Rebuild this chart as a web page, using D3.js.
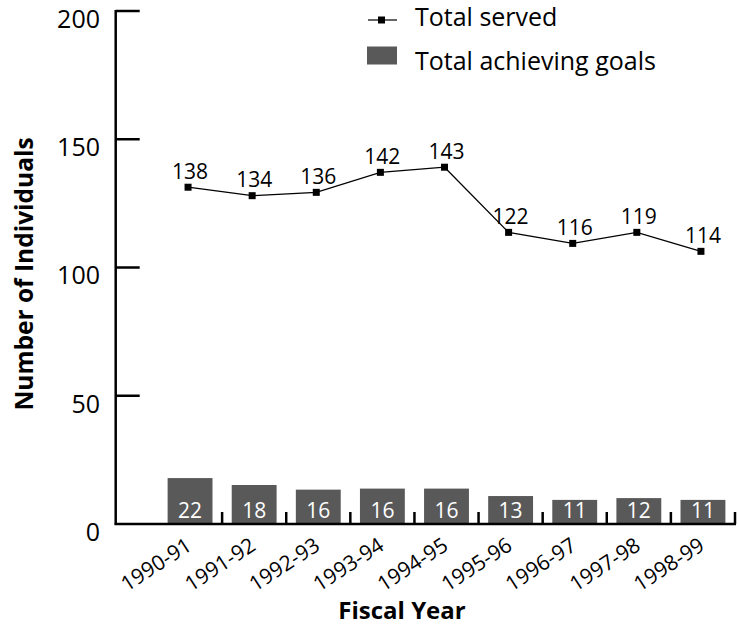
<!DOCTYPE html>
<html>
<head>
<meta charset="utf-8">
<script src="https://cdn.jsdelivr.net/npm/d3@7"></script>
<style>
  html, body { margin: 0; padding: 0; background: #fff; }
  svg { display: block; font-family: "Open Sans", sans-serif; }
</style>
</head>
<body>
<svg id="chart" width="739" height="626"></svg>
<script>
// ---- data ----
const categories = ["1990-91","1991-92","1992-93","1993-94","1994-95","1995-96","1996-97","1997-98","1998-99"];
// values as plotted in the picture
const servedPlotted = [131.3, 128.0, 129.3, 137.1, 139.1, 113.7, 109.4, 113.7, 106.3];
// values as printed on the labels
const servedLabels = [138, 134, 136, 142, 143, 122, 116, 119, 114];
const goalsPlotted = [17.9, 15.2, 13.4, 13.8, 13.8, 10.9, 9.4, 10.1, 9.4];
const goalsLabels = [22, 18, 16, 16, 16, 13, 11, 12, 11];
const yTicks = [0, 50, 100, 150, 200];
const seriesNames = ["Total served", "Total achieving goals"];
const axisTitles = { x: "Fiscal Year", y: "Number of Individuals" };

const svg = d3.select("#chart");
const barColor = "#595959";

const axisLeft = 115.7, axisRight = 736;
const x = d3.scaleBand().domain(categories).range([158, 735]).paddingInner(0.3).paddingOuter(0.15);
const y = d3.scaleLinear().domain([0, 200]).range([524, 11]);
const pad = x.step() * 0.15;

// bars
svg.append("g").selectAll("rect").data(categories).join("rect")
  .attr("x", d => x(d))
  .attr("y", (d, i) => y(goalsPlotted[i]))
  .attr("width", x.bandwidth())
  .attr("height", (d, i) => y(0) - y(goalsPlotted[i]))
  .attr("fill", barColor);

// bar labels
svg.append("g").selectAll("text").data(categories).join("text")
  .attr("x", d => x(d) + x.bandwidth() / 2)
  .attr("y", y(0) - 6)
  .attr("text-anchor", "middle")
  .attr("fill", "#fff")
  .attr("font-size", 21)
  .text((d, i) => goalsLabels[i]);

// axes
const ax = svg.append("g").attr("stroke", "#000").attr("stroke-width", 2.5).attr("fill", "none");
ax.append("line").attr("x1", axisLeft).attr("x2", axisLeft).attr("y1", y(200) - 1).attr("y2", y(0) + 1);
ax.append("line").attr("x1", axisLeft - 1).attr("x2", axisRight).attr("y1", y(0)).attr("y2", y(0));
ax.selectAll(".yt").data(yTicks.filter(t => t > 0)).join("line")
  .attr("x1", axisLeft).attr("x2", axisLeft + 24)
  .attr("y1", d => y(d)).attr("y2", d => y(d));
ax.selectAll(".xt").data(categories).join("line")
  .attr("x1", d => x(d) + x.bandwidth() + pad).attr("x2", d => x(d) + x.bandwidth() + pad)
  .attr("y1", y(0)).attr("y2", y(0) - 12);

// y tick labels
svg.append("g").selectAll("text").data(yTicks).join("text")
  .attr("x", 100)
  .attr("y", d => y(d) + 8)
  .attr("dy", "0.35em")
  .attr("text-anchor", "end")
  .attr("font-size", 25)
  .attr("fill", "#000")
  .text(d => d);

// x tick labels
svg.append("g").selectAll("text").data(categories).join("text")
  .attr("transform", d => `translate(${x(d) + x.bandwidth() / 2 + 3},${y(0) + 25}) rotate(-33)`)
  .attr("text-anchor", "end")
  .attr("font-size", 21)
  .attr("fill", "#000")
  .text(d => d);

// line
const cx = d => x(d) + x.bandwidth() / 2 - 2;
const line = d3.line().x((d, i) => cx(categories[i])).y(d => y(d));
svg.append("path").datum(servedPlotted)
  .attr("d", line).attr("fill", "none").attr("stroke", "#000").attr("stroke-width", 1.2);
svg.append("g").selectAll("rect").data(categories).join("rect")
  .attr("x", d => cx(d) - 3.5)
  .attr("y", (d, i) => y(servedPlotted[i]) - 3.5)
  .attr("width", 7).attr("height", 7).attr("fill", "#000");
svg.append("g").selectAll("text").data(categories).join("text")
  .attr("x", d => cx(d) + 2)
  .attr("y", (d, i) => y(servedPlotted[i]) - 8.5)
  .attr("text-anchor", "middle")
  .attr("font-size", 21)
  .attr("fill", "#000")
  .text((d, i) => servedLabels[i]);

// legend
const lg = svg.append("g");
lg.append("line").attr("x1", 368).attr("x2", 397).attr("y1", 20).attr("y2", 20).attr("stroke", "#000").attr("stroke-width", 1.2);
lg.append("rect").attr("x", 378).attr("y", 16.5).attr("width", 7).attr("height", 7).attr("fill", "#000");
lg.append("text").attr("x", 415).attr("y", 26).attr("font-size", 25).attr("fill", "#000").text(seriesNames[0]);
lg.append("rect").attr("x", 367).attr("y", 46.5).attr("width", 30).attr("height", 18).attr("fill", barColor);
lg.append("text").attr("x", 415).attr("y", 70).attr("font-size", 25).attr("fill", "#000").text(seriesNames[1]);

// axis titles
svg.append("text").attr("x", 402).attr("y", 619).attr("text-anchor", "middle")
  .attr("font-size", 24).attr("font-weight", "bold").attr("fill", "#000").text(axisTitles.x);
svg.append("text").attr("transform", "translate(33,274) rotate(-90)").attr("text-anchor", "middle")
  .attr("font-size", 24.5).attr("font-weight", "bold").attr("fill", "#000").text(axisTitles.y);
</script>
</body>
</html>
